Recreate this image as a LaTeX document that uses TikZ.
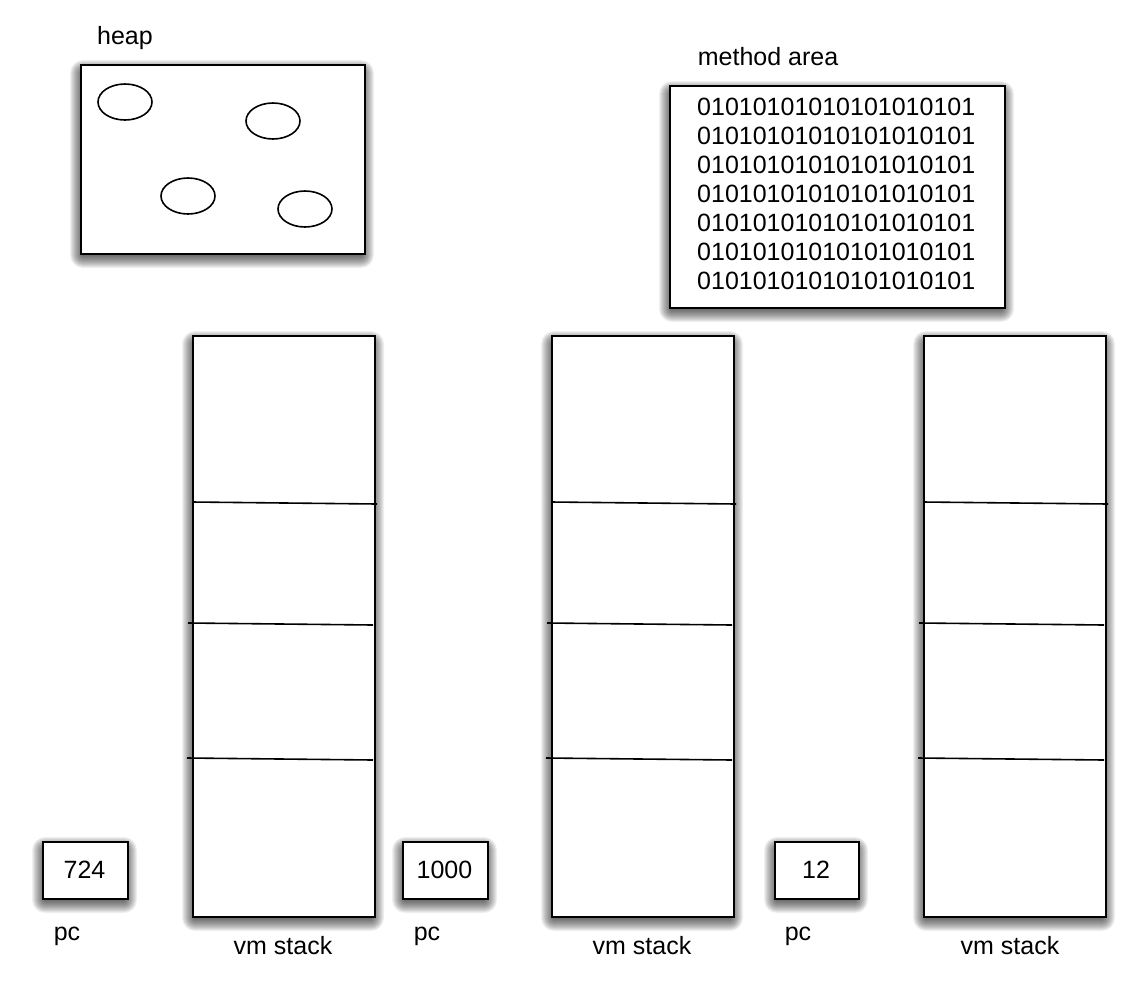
\documentclass[tikz,border=0pt]{standalone}
\usepackage{fontspec}
\setmainfont{Liberation Sans}
\usetikzlibrary{shapes.geometric}
\newcommand{\softshade}[4]{%
  \foreach \r in {1,...,13} {
    \fill[black, opacity=0.06, rounded corners={\r pt}]
      ({#1-\r+3},{#2+9-\r}) rectangle ({#3+\r-3},{#4+2+\r});
  }%
}
\begin{document}
\begin{tikzpicture}[x=1pt,y=-1pt,
  every node/.style={font=\fontsize{25}{29}\selectfont, inner sep=0pt},
  area/.style={fill=white, draw=black, line width=1.6pt, rectangle, anchor=north west},
  blob/.style={draw=black, line width=1.6pt, ellipse, minimum width=54pt, minimum height=36pt},
  divider/.style={draw=black, line width=1.6pt},
  lbl/.style={anchor=center}
]
\useasboundingbox[fill=white] (0,0) rectangle (1148,980);

% shadows
\softshade{80}{64}{364}{253}
\softshade{669}{85}{1004}{307}
\softshade{192}{335}{374}{916}
\softshade{551}{335}{733}{916}
\softshade{923}{335}{1105}{916}
\softshade{42}{841}{127}{898}
\softshade{402}{841}{487}{898}
\softshade{774}{841}{858}{898}

% heap
\node[lbl] (heaplbl) at (125,38) {heap};
\node[area, minimum width=284pt, minimum height=189pt] (heap) at (80,64) {};
\node[blob] (o1) at (125,102) {};
\node[blob] (o2) at (273,121) {};
\node[blob] (o3) at (188,196) {};
\node[blob] (o4) at (305,209) {};

% method area
\node[lbl] (malbl) at (768,57) {method area};
\node[area, minimum width=335pt, minimum height=222pt] (ma) at (669,85) {};
\node[anchor=north west, align=left, inner sep=0pt] (code) at (697,98)
  {01010101010101010101\\01010101010101010101\\01010101010101010101\\01010101010101010101\\01010101010101010101\\01010101010101010101\\01010101010101010101};

% stacks
\foreach \n/\x in {s1/192, s2/551, s3/923} {
  \node[area, minimum width=182pt, minimum height=581pt] (\n) at (\x,335) {};
  \draw[divider] (\x,502) -- ({\x+185},504);
  \draw[divider] ({\x-4},623) -- ({\x+181},625);
  \draw[divider] ({\x-5},758) -- ({\x+181},760);
}
\node[lbl] (v1) at (283,946) {vm stack};
\node[lbl] (v2) at (642,946) {vm stack};
\node[lbl] (v3) at (1010,946) {vm stack};

% pc registers
\node[area, minimum width=85pt, minimum height=57pt] (pc1) at (42,841) {};
\node[anchor=base] (pcv1) at (84.5,878) {724};
\node[area, minimum width=85pt, minimum height=57pt] (pc2) at (402,841) {};
\node[anchor=base] (pcv2) at (444.5,878) {1000};
\node[area, minimum width=84pt, minimum height=57pt] (pc3) at (774,841) {};
\node[anchor=base] (pcv3) at (816,878) {12};
\node[lbl] (p1) at (67,936) {pc};
\node[lbl] (p2) at (427,936) {pc};
\node[lbl] (p3) at (798,936) {pc};
\end{tikzpicture}
\end{document}
